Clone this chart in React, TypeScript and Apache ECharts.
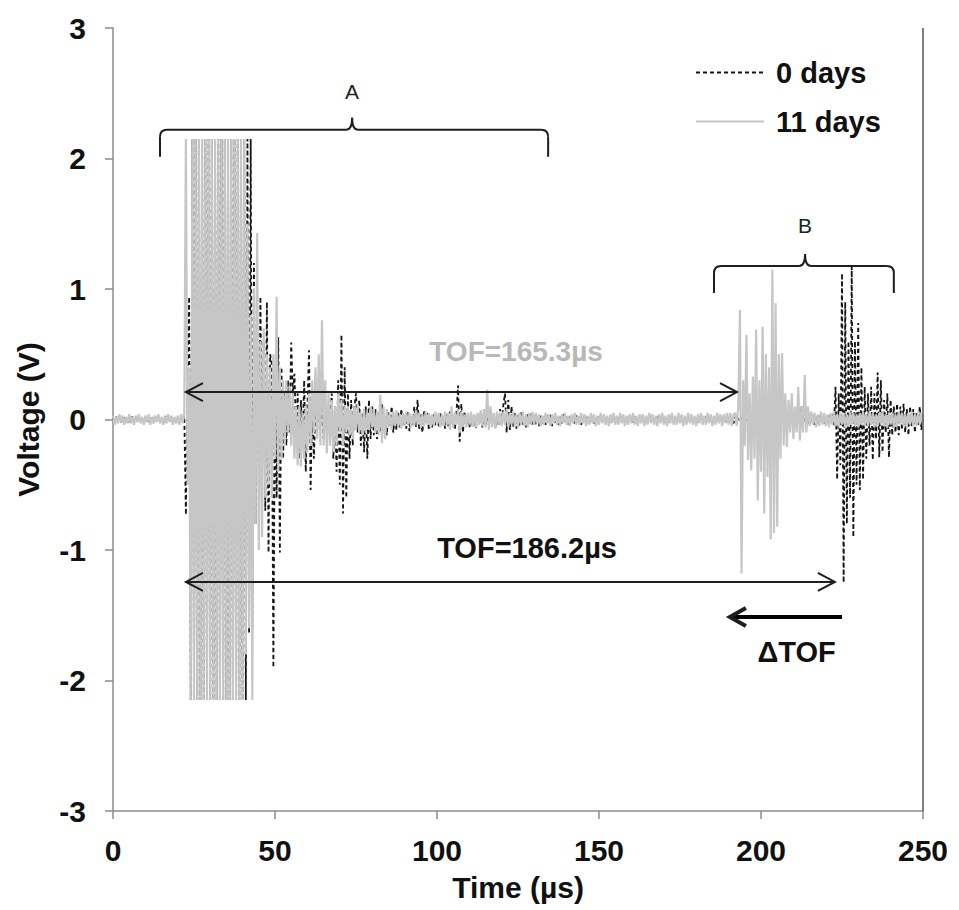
import React, { useEffect, useRef } from "react";
import * as echarts from "echarts";

// ---------------- data ----------------
const STEP_US = 0.5; // sampling step of the waveforms (µs)
const ROW_SPAN_US = 10; // each row below covers 10 µs (20 samples)
const SERIES_NAMES = ["0 days", "11 days"];
const X_TICKS = [0, 50, 100, 150, 200, 250];
const Y_TICKS = [-3, -2, -1, 0, 1, 2, 3];

// 0 days (black dashed), rows start at 0, 10, 20 ... 240 µs, last row = 250 µs
const DAY0_ROWS: number[][] = [
  [0.01,-0.02,0.02,-0.01,0.01,-0.02,0.00,0.02,-0.01,0.01,-0.02,0.01,0.02,-0.01,0.00,-0.02,0.01,0.02,-0.01,0.01],
  [-0.01,0.02,-0.02,0.01,0.00,0.02,-0.01,-0.02,0.01,0.02,-0.01,0.01,-0.02,0.02,0.00,-0.01,0.02,-0.02,0.01,-0.01],
  [0.01,-0.02,0.02,-0.01,0.03,-0.73,0.3,0.94,-2.15,2.15,-2.15,2.15,-2.15,2.15,-2.15,2.15,-2.15,2.15,-2.15,2.15],
  [-2.15,2.15,-2.15,2.15,-2.15,2.15,-2.15,2.15,-2.15,2.15,-2.15,2.15,-2.15,2.15,-2.15,2.15,-2.15,2.15,-2.15,2.15],
  [-2.15,2.15,-2.15,2.15,-1.64,2.15,-1.59,1.2,-0.8,0.7,-0.5,0.94,-0.36,0.6,-0.7,0.9,-1.02,0.5,0.43,-1.9],
  [0.3,-0.6,0.63,-1.02,0.4,-0.3,0.2,-0.2,0.3,-0.1,0.59,0.2,0.35,-0.1,0.2,-0.3,0.15,-0.2,0.3,-0.4],
  [0.1,0.53,-0.54,0.2,-0.3,0.1,-0.1,0.15,-0.05,0.1,-0.15,0.05,-0.1,0.1,-0.05,0.2,-0.3,0.1,-0.4,0.3],
  [-0.5,0.65,-0.72,0.4,-0.6,0.2,-0.3,0.15,-0.2,0.1,0.2,-0.1,0.15,-0.2,0.05,-0.25,0.1,-0.3,0.15,-0.15],
  [0.1,-0.12,0.08,-0.15,0.05,-0.1,0.12,-0.08,0.03,-0.12,0.06,-0.05,0.1,-0.1,0.02,-0.08,0.05,-0.06,0.08,-0.04],
  [0.03,-0.07,0.06,-0.09,0.02,-0.05,0.1,-0.06,0.15,-0.08,0.04,-0.1,0.07,-0.03,0.05,-0.08,0.02,-0.06,0.04,-0.05],
  [0.03,-0.06,0.05,-0.04,0.02,-0.07,0.04,-0.05,0.06,-0.03,0.02,-0.08,0.05,0.26,-0.17,0.12,-0.1,0.06,-0.05,0.03],
  [-0.06,0.04,-0.05,0.03,-0.07,0.02,-0.04,0.05,-0.06,0.03,-0.05,0.02,-0.04,0.06,-0.03,0.04,-0.06,0.02,-0.05,0.08],
  [-0.04,0.12,0.2,-0.1,0.15,-0.08,0.1,-0.06,0.05,-0.07,0.03,-0.05,0.06,-0.04,0.02,-0.06,0.04,-0.03,0.05,-0.05],
  [0.03,-0.04,0.02,-0.05,0.04,-0.03,0.02,-0.04,0.03,-0.02,0.04,-0.05,0.02,-0.03,0.03,-0.04,0.02,-0.03,0.04,-0.02],
  [0.02,-0.04,0.03,-0.02,0.01,-0.03,0.03,-0.02,0.02,-0.04,0.01,-0.02,0.03,-0.03,0.02,-0.01,0.02,-0.03,0.01,-0.02],
  [0.02,-0.01,0.01,-0.02,0.02,-0.01,0.00,-0.02,0.02,-0.01,0.01,-0.02,0.01,0.02,-0.01,0.00,-0.02,0.01,0.02,-0.01],
  [0.01,-0.02,0.02,-0.01,0.01,-0.02,0.00,0.02,-0.01,0.01,-0.02,0.01,0.02,-0.02,0.01,-0.01,0.02,-0.01,0.00,-0.02],
  [0.02,-0.01,0.01,-0.02,0.02,0.00,-0.01,0.02,-0.02,0.01,-0.01,0.02,-0.01,0.01,-0.02,0.02,-0.01,0.00,0.02,-0.01],
  [0.01,-0.02,0.02,-0.01,0.01,-0.02,0.02,-0.01,0.00,0.02,-0.02,0.01,-0.01,0.02,-0.02,0.01,0.02,-0.01,0.01,-0.02],
  [0.02,-0.01,0.01,-0.03,0.02,-0.02,0.01,-0.01,0.02,-0.02,0.03,-0.01,0.01,-0.02,0.02,-0.03,0.01,-0.01,0.02,-0.02],
  [0.01,-0.02,0.02,-0.01,0.03,-0.02,0.01,-0.03,0.02,-0.01,0.01,-0.02,0.02,-0.01,0.03,-0.02,0.01,-0.02,0.02,-0.01],
  [0.02,-0.02,0.03,0.08,-0.02,0.1,-0.04,0.06,0.02,-0.03,0.05,-0.02,0.03,-0.04,0.02,-0.03,0.04,-0.02,0.03,-0.03],
  [0.02,-0.03,0.03,-0.02,0.04,-0.05,0.25,-0.46,0.2,-0.35,1.12,-1.25,0.9,-0.8,0.6,-0.6,1.17,-0.9,0.6,-0.5],
  [0.74,-0.54,0.4,-0.46,0.25,-0.3,0.2,-0.2,0.25,-0.31,0.2,-0.15,0.36,-0.29,0.3,-0.25,0.15,-0.1,0.2,-0.29],
  [0.15,-0.12,0.1,-0.1,0.12,-0.12,0.1,-0.08,0.12,-0.1,0.08,-0.12,0.1,-0.06,0.08,-0.1,0.06,-0.05,0.1,-0.08],
  [0.03],
];

// 11 days (light grey solid)
const DAY11_ROWS: number[][] = [
  [0.03,-0.04,0.02,-0.03,0.04,-0.02,0.03,-0.04,0.02,-0.03,0.04,-0.03,0.02,-0.04,0.03,-0.02,0.04,-0.03,0.02,-0.04],
  [0.03,-0.02,0.04,-0.04,0.02,-0.03,0.03,-0.02,0.04,-0.03,0.02,-0.04,0.03,-0.03,0.04,-0.02,0.03,-0.04,0.02,-0.03],
  [0.03,-0.04,0.04,-0.03,0.05,2.15,-0.5,0.4,-2.15,2.15,-2.15,2.15,-2.15,2.15,-2.15,2.15,-2.15,2.15,-2.15,2.15],
  [-2.15,2.15,-2.15,2.15,-2.15,2.15,-2.15,2.15,-2.15,2.15,-2.15,2.15,-2.15,2.15,-2.15,2.15,-2.15,2.15,-2.15,2.15],
  [-2.15,2.15,-1.8,1.5,-1.6,0.8,-2.15,1.0,-0.8,1.43,-1.0,0.6,-0.9,0.7,-0.6,0.5,-0.5,0.4,-0.6,0.5],
  [-0.3,0.94,-0.4,0.4,-0.3,0.3,-0.2,0.3,-0.1,0.25,-0.2,0.2,-0.3,0.1,-0.35,0.1,-0.36,0.05,-0.3,0.1],
  [-0.25,0.2,-0.2,0.3,-0.1,0.4,-0.15,0.5,-0.2,0.76,-0.2,0.3,-0.26,0.2,-0.2,0.15,-0.25,0.1,-0.2,0.2],
  [-0.1,0.15,-0.2,0.1,-0.1,0.1,-0.12,0.08,-0.15,0.1,-0.08,0.12,-0.1,0.06,-0.12,0.08,-0.1,0.05,-0.08,0.1],
  [-0.06,0.08,-0.1,0.06,-0.12,0.19,-0.18,0.1,-0.15,0.08,-0.06,0.05,-0.08,0.06,-0.05,0.07,-0.06,0.04,-0.07,0.05],
  [-0.05,0.06,-0.04,0.05,-0.06,0.04,-0.05,0.07,-0.04,0.05,-0.06,0.04,-0.05,0.06,-0.04,0.05,-0.06,0.04,-0.05,0.06],
  [-0.04,0.05,-0.06,0.04,-0.05,0.06,-0.04,0.05,-0.08,0.1,-0.06,0.05,-0.04,0.08,-0.1,0.06,-0.05,0.04,-0.06,0.05],
  [-0.04,0.06,-0.05,0.04,-0.06,0.05,-0.04,0.07,-0.05,0.08,-0.06,0.23,-0.08,0.1,-0.06,0.05,-0.07,0.06,-0.04,0.05],
  [-0.05,0.06,-0.04,0.08,-0.06,0.05,-0.04,0.06,-0.05,0.04,-0.06,0.05,-0.04,0.06,-0.05,0.04,-0.06,0.05,-0.04,0.06],
  [-0.04,0.05,-0.03,0.04,-0.05,0.03,-0.04,0.05,-0.03,0.04,-0.05,0.04,-0.03,0.05,-0.04,0.03,-0.05,0.04,-0.03,0.05],
  [-0.04,0.03,-0.05,0.04,-0.03,0.05,-0.04,0.03,-0.04,0.05,-0.03,0.04,-0.05,0.03,-0.04,0.05,-0.03,0.04,-0.05,0.03],
  [-0.04,0.05,-0.03,0.04,-0.04,0.03,-0.05,0.04,-0.03,0.05,-0.04,0.03,-0.04,0.05,-0.03,0.04,-0.05,0.03,-0.04,0.04],
  [-0.03,0.05,-0.04,0.03,-0.05,0.04,-0.03,0.04,-0.05,0.03,-0.04,0.05,-0.03,0.04,-0.04,0.03,-0.05,0.04,-0.03,0.05],
  [-0.04,0.03,-0.05,0.04,-0.03,0.05,-0.04,0.03,-0.04,0.05,-0.03,0.04,-0.05,0.03,-0.04,0.05,-0.03,0.04,-0.04,0.03],
  [-0.05,0.04,-0.03,0.05,-0.04,0.03,-0.04,0.05,-0.03,0.04,-0.05,0.03,-0.04,0.05,-0.03,0.04,-0.05,0.04,-0.03,0.05],
  [-0.04,0.05,-0.05,0.04,0.05,-0.05,0.1,0.84,-1.18,0.3,-0.2,0.65,-0.31,0.2,-0.39,0.33,-0.3,0.69,-0.62,0.3],
  [-0.4,0.71,-0.72,0.5,-0.44,0.4,-0.92,1.15,-0.87,0.89,-0.82,0.5,-0.3,0.51,-0.2,0.2,-0.21,0.15,-0.1,0.2],
  [-0.15,0.1,-0.1,0.25,-0.16,0.1,-0.1,0.34,-0.1,0.1,-0.05,0.06,-0.04,0.05,-0.06,0.04,-0.05,0.06,-0.04,0.05],
  [-0.05,0.04,-0.06,0.05,-0.04,0.06,-0.05,0.04,-0.06,0.05,-0.04,0.05,-0.06,0.04,-0.05,0.06,-0.04,0.05,-0.05,0.04],
  [-0.06,0.05,-0.04,0.06,-0.05,0.04,-0.05,0.06,-0.04,0.05,-0.06,0.04,-0.05,0.05,-0.04,0.06,-0.05,0.04,-0.06,0.05],
  [-0.04,0.05,-0.06,0.04,-0.05,0.06,-0.04,0.05,-0.05,0.04,-0.06,0.05,-0.04,0.06,-0.05,0.04,-0.05,0.06,-0.04,0.05],
  [-0.03],
];

// annotations, in data coordinates (µs, V)
const TOF_11 = { label: "TOF=165.3µs", y: 0.21, from: 22.5, to: 192.6, textX: 124.4, textY: 0.52 };
const TOF_0 = { label: "TOF=186.2µs", y: -1.245, from: 22.5, to: 222.8, textX: 127.8, textY: -0.985 };
const DELTA_TOF = { label: "ΔTOF", y: -1.513, from: 225.0, to: 190.4, textX: 211.0, textY: -1.78 };
const BRACE_A = { label: "A", from: 14.5, to: 134.3, mid: 73.8, y: 2.22, textY: 2.51 };
const BRACE_B = { label: "B", from: 185.5, to: 241.0, mid: 213.6, y: 1.176, textY: 1.49 };

const FONT = "'Liberation Sans', Arial, Helvetica, sans-serif";

function toPairs(rows: number[][]): [number, number][] {
  const out: [number, number][] = [];
  rows.forEach((row, r) =>
    row.forEach((v, j) => out.push([r * ROW_SPAN_US + j * STEP_US, v]))
  );
  return out;
}

export default function App() {
  const ref = useRef<HTMLDivElement>(null);

  useEffect(() => {
    if (!ref.current) return;
    const chart = echarts.init(ref.current, undefined, { renderer: "svg" });
    const axisColor = "#8c8c8c";
    const labelStyle = { color: "#111", fontSize: 30, fontWeight: "bold" as const, fontFamily: FONT };

    chart.setOption({
      animation: false,
      backgroundColor: "#ffffff",
      grid: { left: 113, top: 28, width: 810, height: 783, containLabel: false },
      legend: {
        orient: "vertical",
        left: 695,
        top: 58,
        padding: 0,
        itemWidth: 68,
        itemHeight: 29,
        itemGap: 20,
        itemStyle: { opacity: 0, color: "transparent", borderColor: "transparent", borderWidth: 0 },
        textStyle: { ...labelStyle, fontSize: 29, lineHeight: 29, padding: [0, 0, 0, 7] },
        data: SERIES_NAMES,
      },
      xAxis: {
        type: "value",
        min: X_TICKS[0],
        max: X_TICKS[X_TICKS.length - 1],
        interval: X_TICKS[1] - X_TICKS[0],
        axisLine: { show: true, onZero: false, lineStyle: { color: axisColor, width: 1.5 } },
        axisTick: { show: true, length: 8, lineStyle: { color: axisColor, width: 1.5 } },
        splitLine: { show: false },
        axisLabel: { ...labelStyle, margin: 24 },
        name: "Time (µs)",
        nameLocation: "middle",
        nameGap: 61,
        nameTextStyle: { ...labelStyle },
      },
      yAxis: {
        type: "value",
        min: Y_TICKS[0],
        max: Y_TICKS[Y_TICKS.length - 1],
        interval: Y_TICKS[1] - Y_TICKS[0],
        axisLine: { show: true, onZero: false, lineStyle: { color: axisColor, width: 1.5 } },
        axisTick: { show: true, length: 8, lineStyle: { color: axisColor, width: 1.5 } },
        splitLine: { show: false },
        axisLabel: { ...labelStyle, margin: 27 },
        name: "Voltage (V)",
        nameLocation: "middle",
        nameGap: 70,
        nameTextStyle: { ...labelStyle },
      },
      series: [
        {
          name: SERIES_NAMES[0],
          type: "line",
          data: toPairs(DAY0_ROWS),
          symbol: "none",
          lineStyle: { color: "#141414", width: 1.8, type: [4, 3] },
          itemStyle: { color: "#141414" },
          z: 2,
        },
        {
          name: SERIES_NAMES[1],
          type: "line",
          data: toPairs(DAY11_ROWS),
          symbol: "none",
          lineStyle: { color: "#c6c6c6", width: 2.2 },
          itemStyle: { color: "#c6c6c6" },
          z: 3,
        },
      ],
    });

    const px = (x: number, y: number) => chart.convertToPixel({ gridIndex: 0 }, [x, y]) as number[];
    const dark = "#1e1e1e";
    const graphics: any[] = [];

    const text = (t: string, x: number, y: number, size: number, weight: string, color: string) => {
      const [tx, ty] = px(x, y);
      graphics.push({
        type: "text",
        x: tx,
        y: ty,
        z: 20,
        style: { text: t, fill: color, fontSize: size, fontWeight: weight, fontFamily: FONT, align: "center", verticalAlign: "middle" },
      });
    };

    const head = (tipX: number, tipY: number, dir: number, len: number, half: number, width: number) => {
      graphics.push({
        type: "polyline",
        z: 20,
        shape: { points: [[tipX + dir * len, tipY - half], [tipX, tipY], [tipX + dir * len, tipY + half]] },
        style: { stroke: dark, lineWidth: width, fill: "none" },
      });
    };

    const doubleArrow = (a: { y: number; from: number; to: number }) => {
      const [x0, y0] = px(a.from, a.y);
      const [x1] = px(a.to, a.y);
      graphics.push({ type: "line", z: 20, shape: { x1: x0, y1: y0, x2: x1, y2: y0 }, style: { stroke: dark, lineWidth: 2 } });
      head(x0, y0, 1, 17, 9, 2);
      head(x1, y0, -1, 17, 9, 2);
    };

    const brace = (b: { from: number; to: number; mid: number; y: number }) => {
      const [x0, y] = px(b.from, b.y);
      const [x1] = px(b.to, b.y);
      const [xm] = px(b.mid, b.y);
      const depth = 27, r = 7, tip = 12;
      const st = { stroke: dark, lineWidth: 2, fill: "none" };
      graphics.push(
        { type: "line", z: 20, shape: { x1: x0, y1: y + depth, x2: x0, y2: y + r }, style: st },
        { type: "bezierCurve", z: 20, shape: { x1: x0, y1: y + r, cpx1: x0, cpy1: y, x2: x0 + r, y2: y }, style: st },
        { type: "line", z: 20, shape: { x1: x0 + r, y1: y, x2: xm - 6, y2: y }, style: st },
        { type: "bezierCurve", z: 20, shape: { x1: xm - 6, y1: y, cpx1: xm, cpy1: y, x2: xm, y2: y - tip }, style: st },
        { type: "bezierCurve", z: 20, shape: { x1: xm + 6, y1: y, cpx1: xm, cpy1: y, x2: xm, y2: y - tip }, style: st },
        { type: "line", z: 20, shape: { x1: xm + 6, y1: y, x2: x1 - r, y2: y }, style: st },
        { type: "bezierCurve", z: 20, shape: { x1: x1 - r, y1: y, cpx1: x1, cpy1: y, x2: x1, y2: y + r }, style: st },
        { type: "line", z: 20, shape: { x1: x1, y1: y + r, x2: x1, y2: y + depth }, style: st }
      );
    };

    brace(BRACE_A);
    brace(BRACE_B);
    text(BRACE_A.label, BRACE_A.mid, BRACE_A.textY, 21, "normal", "#222");
    text(BRACE_B.label, BRACE_B.mid, BRACE_B.textY, 21, "normal", "#222");

    doubleArrow(TOF_11);
    doubleArrow(TOF_0);
    text(TOF_11.label, TOF_11.textX, TOF_11.textY, 28, "bold", "#b8b8b8");
    text(TOF_0.label, TOF_0.textX, TOF_0.textY, 29, "bold", "#111");

    // ΔTOF arrow (thick, pointing left)
    {
      const [x0, y0] = px(DELTA_TOF.from, DELTA_TOF.y);
      const [x1] = px(DELTA_TOF.to, DELTA_TOF.y);
      graphics.push({ type: "line", z: 20, shape: { x1: x0, y1: y0, x2: x1 + 2, y2: y0 }, style: { stroke: "#000", lineWidth: 4 } });
      head(x1, y0, 1, 16, 9, 4);
      text(DELTA_TOF.label, DELTA_TOF.textX, DELTA_TOF.textY, 29, "bold", "#111");
    }

    // right border of the plot area
    {
      const [xr, yt] = px(X_TICKS[X_TICKS.length - 1], Y_TICKS[Y_TICKS.length - 1]);
      const [, yb] = px(X_TICKS[X_TICKS.length - 1], Y_TICKS[0]);
      graphics.push({ type: "line", z: 5, shape: { x1: xr, y1: yt, x2: xr, y2: yb }, style: { stroke: "#555", lineWidth: 1.5 } });
    }

    chart.setOption({ graphic: graphics });

    return () => chart.dispose();
  }, []);

  return (
    <div
      ref={ref}
      style={{ position: "absolute", left: 0, top: 0, width: 959, height: 910, background: "#fff" }}
    />
  );
}
